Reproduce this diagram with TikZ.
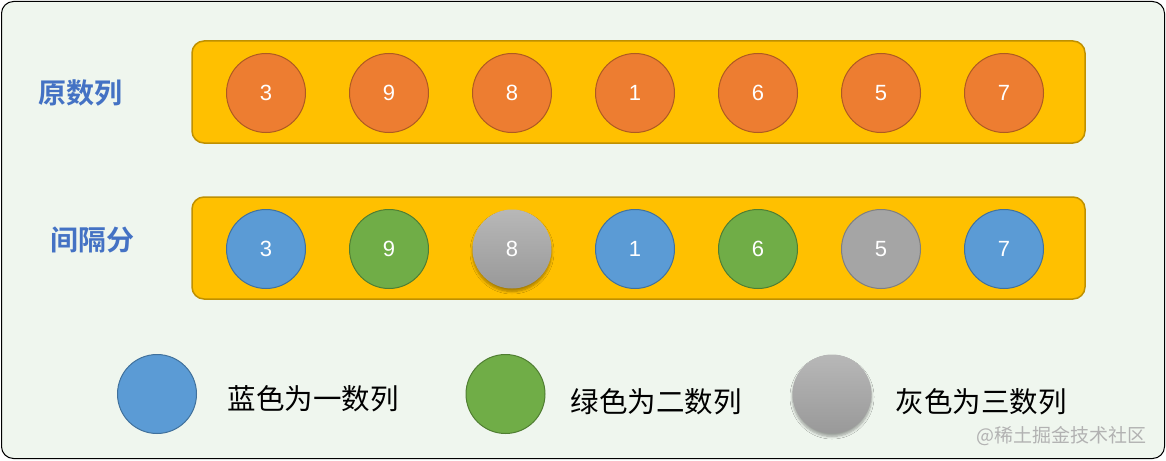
\documentclass[tikz,border=0pt]{standalone}
\usepackage{fontspec}
\setmainfont{Liberation Sans}
\newfontfamily\cjk{Noto Sans CJK SC}
\newfontfamily\cjkb{Noto Sans CJK SC Bold}
\usetikzlibrary{shadows.blur}
\definecolor{bgc}{HTML}{EFF6EE}
\definecolor{barfill}{HTML}{FFC000}
\definecolor{bardraw}{HTML}{BF9000}
\definecolor{orc}{HTML}{ED7D31}
\definecolor{ord}{HTML}{AE5A21}
\definecolor{blc}{HTML}{5B9BD5}
\definecolor{bld}{HTML}{41719C}
\definecolor{grc}{HTML}{70AD47}
\definecolor{grd}{HTML}{507E32}
\definecolor{gyc}{HTML}{A5A5A5}
\definecolor{gyd}{HTML}{7F7F7F}
\definecolor{labc}{HTML}{4472C4}
\begin{document}
\begin{tikzpicture}[x=1pt,y=-1pt,
  bar/.style={draw=bardraw,line width=1.5pt,fill=barfill,rounded corners=12pt},
  ball/.style={circle,minimum size=79pt,inner sep=0pt,line width=1pt,text=white,font=\fontsize{22}{22}\selectfont},
  oball/.style={ball,fill=orc,draw=ord},
  bball/.style={ball,fill=blc,draw=bld},
  gball/.style={ball,fill=grc,draw=grd},
  yball/.style={ball,fill=gyc,draw=gyd},
  xball/.style={ball,top color=black!28,bottom color=black!40,draw=none,
     blur shadow={shadow xshift=0pt,shadow yshift=-3pt,shadow blur radius=2.5pt,shadow blur steps=6,shadow opacity=35}},
  rowlab/.style={text=labc,font=\cjkb\fontsize{28}{28}\selectfont},
  leglab/.style={anchor=west,font=\cjk\fontsize{28.5}{28.5}\selectfont}]
\useasboundingbox (0,0) rectangle (1166,460);
\draw[fill=bgc,draw=black,line width=1pt,rounded corners=12pt] (1.5,1.5) rectangle (1164.5,458.5);
\node[bar,minimum width=893pt,minimum height=102pt] (bar1) at (638.5,92) {};
\node[bar,minimum width=893pt,minimum height=102pt] (bar2) at (638.5,248) {};
\node[rowlab] (l1) at (80,93) {原数列};
\node[rowlab] (l2) at (92,240) {间隔分};
\foreach \v [count=\i] in {3,9,8,1,6,5,7}{
  \node[oball] (a\i) at ({266+123*(\i-1)},93) {\v};
}
\node[bball] (b1) at (266,249) {3};
\node[gball] (b2) at (389,249) {9};
\node[xball] (b3) at (512,249) {8};
\node[bball] (b4) at (635,249) {1};
\node[gball] (b5) at (758,249) {6};
\node[yball] (b6) at (881,249) {5};
\node[bball] (b7) at (1004,249) {7};
\node[bball] (k1) at (157,394) {};
\node[gball] (k2) at (505.5,394) {};
\node[xball] (k3) at (832,394) {};
\node[leglab] (t1) at (224,399) {蓝色为一数列};
\node[leglab] (t2) at (567,402) {绿色为二数列};
\node[leglab] (t3) at (892,402) {灰色为三数列};
\node[anchor=east,text=black!30,font=\cjk\fontsize{19}{19}\selectfont] (wm) at (1150,436) {@稀土掘金技术社区};
\end{tikzpicture}
\end{document}
